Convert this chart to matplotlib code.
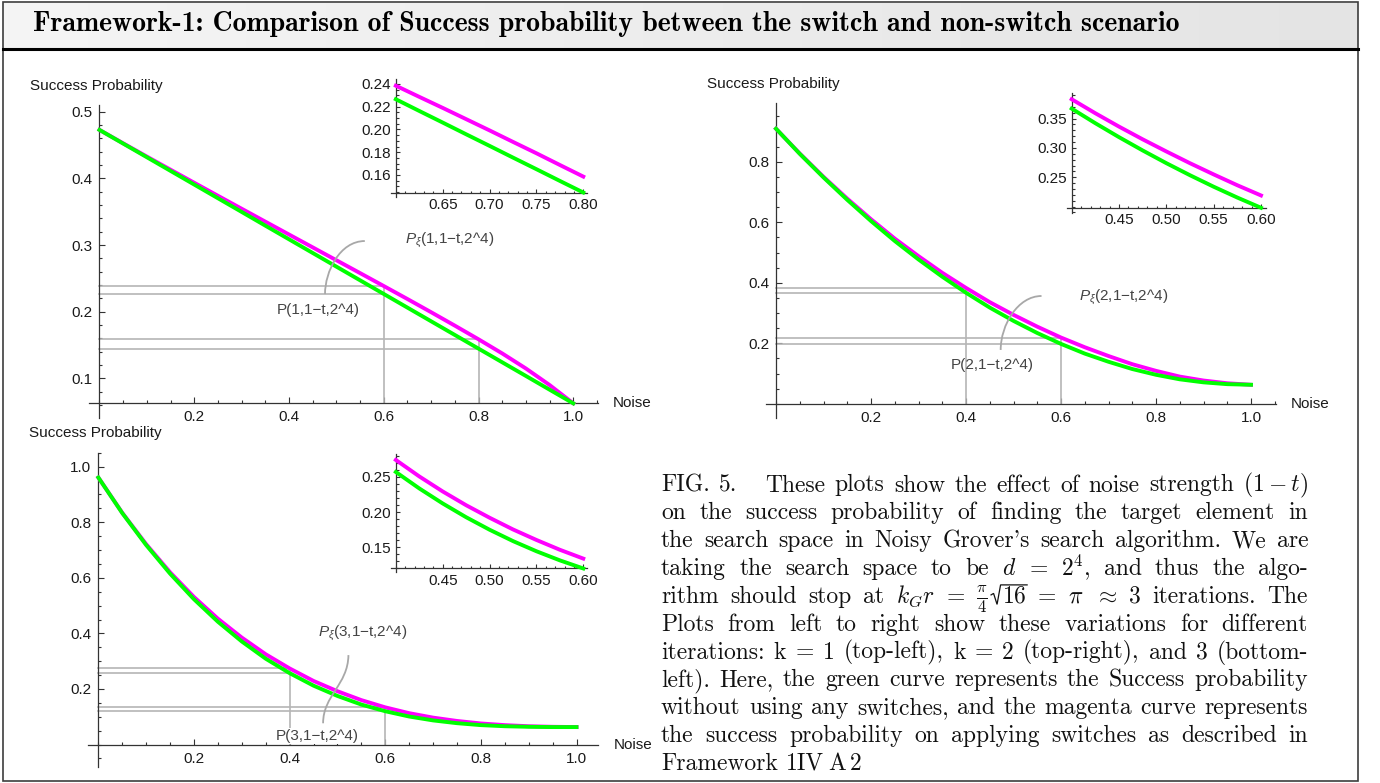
import numpy as np
import matplotlib
matplotlib.use("Agg")
import matplotlib.pyplot as plt
from matplotlib.path import Path
from matplotlib.patches import PathPatch, Rectangle
from matplotlib.lines import Line2D
from matplotlib.colors import LinearSegmentedColormap
from matplotlib.ticker import FixedLocator, MultipleLocator, FormatStrFormatter
from matplotlib.transforms import IdentityTransform

# ---- values ---------------------------------------------------------------
noise = [0.00, 0.05, 0.10, 0.15, 0.20, 0.25, 0.30, 0.35, 0.40, 0.45, 0.50,
         0.55, 0.60, 0.65, 0.70, 0.75, 0.80, 0.85, 0.90, 0.95, 1.00]

# k = 1 (top-left)
k1_plain = [0.4727, 0.4522, 0.4317, 0.4112, 0.3907, 0.3702, 0.3497, 0.3291, 0.3086, 0.2881, 0.2676,
            0.2471, 0.2266, 0.2061, 0.1856, 0.1651, 0.1446, 0.1241, 0.1036, 0.0830, 0.0625]
k1_switch = [0.4727, 0.4526, 0.4327, 0.4130, 0.3934, 0.3739, 0.3545, 0.3351, 0.3158, 0.2965, 0.2772,
             0.2579, 0.2385, 0.2190, 0.1992, 0.1791, 0.1586, 0.1374, 0.1148, 0.0900, 0.0625]
# k = 2 (top-right)
k2_plain = [0.909, 0.826, 0.748, 0.674, 0.604, 0.538, 0.477, 0.420, 0.367, 0.318, 0.274,
            0.234, 0.198, 0.166, 0.139, 0.115, 0.096, 0.081, 0.071, 0.065, 0.063]
k2_switch = [0.909, 0.827, 0.750, 0.678, 0.610, 0.546, 0.488, 0.433, 0.383, 0.336, 0.294,
             0.255, 0.219, 0.187, 0.158, 0.131, 0.109, 0.090, 0.077, 0.068, 0.063]
# k = 3 (bottom-left)
k3_plain = [0.961, 0.833, 0.718, 0.615, 0.523, 0.442, 0.371, 0.309, 0.257, 0.212, 0.175,
            0.144, 0.120, 0.101, 0.087, 0.077, 0.070, 0.066, 0.064, 0.063, 0.063]
k3_switch = [0.961, 0.834, 0.721, 0.620, 0.531, 0.453, 0.385, 0.325, 0.274, 0.229, 0.192,
             0.160, 0.134, 0.113, 0.097, 0.085, 0.076, 0.070, 0.066, 0.064, 0.063]

# the insets, read on a finer step
zoom_noise_k1 = [0.600, 0.625, 0.650, 0.675, 0.700, 0.725, 0.750, 0.775, 0.800]
zoom_k1_plain = [0.2266, 0.2163, 0.2061, 0.1958, 0.1856, 0.1753, 0.1651, 0.1548, 0.1446]
zoom_k1_switch = [0.2385, 0.2287, 0.2190, 0.2091, 0.1992, 0.1891, 0.1791, 0.1688, 0.1586]
zoom_noise_k23 = [0.400, 0.425, 0.450, 0.475, 0.500, 0.525, 0.550, 0.575, 0.600]
zoom_k2_plain = [0.3671, 0.3422, 0.3184, 0.2957, 0.2740, 0.2534, 0.2338, 0.2153, 0.1979]
zoom_k2_switch = [0.3831, 0.3592, 0.3364, 0.3147, 0.2940, 0.2739, 0.2548, 0.2363, 0.2189]
zoom_k3_plain = [0.2567, 0.2334, 0.2121, 0.1926, 0.1749, 0.1588, 0.1444, 0.1315, 0.1200]
zoom_k3_switch = [0.2737, 0.2504, 0.2291, 0.2096, 0.1919, 0.1753, 0.1604, 0.1465, 0.1340]

marks_k1 = [0.6, 0.8]
marks_k2 = [0.4, 0.6]
marks_k3 = [0.4, 0.6]

title = "Framework-1: Comparison of Success probability between the switch and non-switch scenario"
ylabel = "Success Probability"
xlabel = "Noise"
labels_switch = ["$P_{\\xi}$(1,1\u2212t,2^4)", "$P_{\\xi}$(2,1\u2212t,2^4)", "$P_{\\xi}$(3,1\u2212t,2^4)"]
labels_plain = ["P(1,1\u2212t,2^4)", "P(2,1\u2212t,2^4)", "P(3,1\u2212t,2^4)"]

# one space = normal gap, more spaces = wider gap, a leading "+" glues a piece
# to the previous word, "ROOT16" is the square root of 16
caption_lines = [
    "FIG. 5.   These plots show the effect of noise strength $(1-t)$",
    "on the success probability of finding the target element in",
    "the search space in Noisy Grover's search algorithm. We are",
    "taking the search space to be $d$ = $2^4$, and thus the algo-",
    r"rithm should stop at $k_Gr$ = $\frac{\pi}{4}$ +ROOT16 = $\pi$ $\approx$ 3 iterations. The",
    "Plots from left to right show these variations for different",
    "iterations: k = 1 (top-left), k = 2 (top-right), and 3 (bottom-",
    "left). Here, the green curve represents the Success probability",
    "without using any switches, and the magenta curve represents",
    "the success probability on applying switches as described in",
    "Framework  1IV A 2",
]

# ---- style ------------------------------------------------------------------
plt.rcParams['font.family'] = ['Liberation Sans', 'DejaVu Sans']
plt.rcParams['mathtext.fontset'] = 'custom'
plt.rcParams['mathtext.rm'] = 'Liberation Sans'
plt.rcParams['mathtext.it'] = 'Liberation Sans:italic'
plt.rcParams['mathtext.bf'] = 'Liberation Sans:bold'

MAGENTA = '#ff00ff'
GREEN = '#00ff00'
GREY = '#b5b5b5'
LEAD = '#a8a8a8'
AXC = '#333333'
INK = '#111111'

W, H = 1380, 783
fig = plt.figure(figsize=(W / 100, H / 100), dpi=100)
PX = IdentityTransform()


def fy(y):
    return H - y


def place(xmap, ymap, xlim, ylim):
    """axes whose data limits land on the given pixel positions"""
    xa, pa, xb, pb = xmap
    ya, qa, yb, qb = ymap
    sx = (pb - pa) / (xb - xa)
    sy = (qb - qa) / (yb - ya)
    left = pa + (xlim[0] - xa) * sx
    right = pa + (xlim[1] - xa) * sx
    top = qa + (ylim[1] - ya) * sy
    bottom = qa + (ylim[0] - ya) * sy
    ax = fig.add_axes([left / W, 1 - bottom / H, (right - left) / W, (bottom - top) / H])
    ax.set_xlim(xlim)
    ax.set_ylim(ylim)
    return ax


def panel(xmap, ymap, xlim, ylim, origin, xt, xm, yt, ym, inset=False):
    ax = place(xmap, ymap, xlim, ylim)
    ax.patch.set_visible(False)
    for s in ('top', 'right'):
        ax.spines[s].set_visible(False)
    ax.spines['left'].set_position(('data', origin[0]))
    ax.spines['bottom'].set_position(('data', origin[1]))
    for s in ('left', 'bottom'):
        ax.spines[s].set_color(AXC)
        ax.spines[s].set_linewidth(0.9)
    ax.xaxis.set_major_locator(FixedLocator(xt))
    ax.xaxis.set_minor_locator(MultipleLocator(xm))
    ax.yaxis.set_major_locator(FixedLocator(yt))
    ax.yaxis.set_minor_locator(MultipleLocator(ym))
    fmt = '%.2f' if inset else '%.1f'
    ax.xaxis.set_major_formatter(FormatStrFormatter(fmt))
    ax.yaxis.set_major_formatter(FormatStrFormatter(fmt))
    big, small = (3.0, 1.8) if inset else (4.3, 2.5)
    ax.tick_params(which='both', direction='in', colors=AXC, width=0.8,
                   labelcolor='#1a1a1a', labelsize=11)
    ax.tick_params(which='major', length=big)
    ax.tick_params(which='minor', length=small)
    ax.tick_params(axis='x', pad=4 if inset else 5)
    ax.tick_params(axis='y', pad=3.5 if inset else 5)
    return ax


def curves(ax, x, sw, pl):
    ax.plot(x, sw, color=MAGENTA, lw=2.8, zorder=3)
    ax.plot(x, pl, color=GREEN, lw=2.8, zorder=4)


def drops(ax, sw, pl, where, base):
    x = np.asarray(noise)
    for n in where:
        i = int(np.argmin(np.abs(x - n)))
        for v in (sw[i], pl[i]):
            ax.plot([0, x[i]], [v, v], color=GREY, lw=1.2, zorder=2)
        ax.plot([x[i], x[i]], [base, max(sw[i], pl[i])], color=GREY, lw=1.2, zorder=2)


def axis_names(ax, y0):
    ax.annotate(xlabel, xy=(1, y0), xycoords=ax.get_yaxis_transform(),
                xytext=(11, 0), textcoords='offset points', ha='left', va='center',
                fontsize=11, color='#1a1a1a', annotation_clip=False)
    ax.annotate(ylabel, xy=(0, 1), xycoords=ax.get_xaxis_transform(),
                xytext=(-50, 14), textcoords='offset points', ha='left', va='center',
                fontsize=11, color='#1a1a1a', annotation_clip=False)


def callouts(ax, sw_label, pl_label, sw_xy, pl_xy, lead, boxed=False):
    ax.text(*sw_xy, sw_label, ha='left', va='center', fontsize=11, color='#444444')
    kw = {}
    if boxed:
        kw['bbox'] = dict(fc='white', ec='none', pad=0.5)
    ax.text(*pl_xy, pl_label, ha='center', va='center', fontsize=11, color='#444444',
            zorder=6, **kw)
    path = Path(lead, [Path.MOVETO, Path.CURVE4, Path.CURVE4, Path.CURVE4])
    ax.add_patch(PathPatch(path, fill=False, ec=LEAD, lw=1.3, zorder=5, clip_on=False))


# ---- frame and header ---------------------------------------------------
head = fig.add_axes([3 / W, 1 - 49 / H, 1355 / W, 46 / H], zorder=-1)
head.imshow(np.linspace(0, 1, 256)[None, :], aspect='auto', extent=(0, 1, 0, 1),
            cmap=LinearSegmentedColormap.from_list('hdr', ['#f5f5f5', '#e4e4e4']))
head.axis('off')
fig.add_artist(Rectangle((3, fy(781)), 1355, 779, fill=False, ec='#3d3d3d', lw=1.2, transform=PX))
fig.add_artist(Line2D([3, 1358], [fy(49), fy(49)], color='black', lw=2.2, transform=PX))
fig.text(33, fy(31), title, transform=PX, fontfamily='cmb10', fontsize=20, va='baseline')

xt_main = [0.2, 0.4, 0.6, 0.8, 1.0]
xt_inset_a = [0.65, 0.70, 0.75, 0.80]
xt_inset_b = [0.45, 0.50, 0.55, 0.60]

# ---- top-left: k = 1 -------------------------------------------------------
ax1 = panel((0.4, 289.0, 1.0, 573.3), (0.5, 111.7, 0.2, 311.7), (-0.022, 1.052), (0.041, 0.51),
            (0, k1_plain[-1]), xt_main, 0.05, [0.1, 0.2, 0.3, 0.4, 0.5], 0.02)
drops(ax1, k1_switch, k1_plain, marks_k1, k1_plain[-1])
curves(ax1, noise, k1_switch, k1_plain)
axis_names(ax1, k1_plain[-1])
callouts(ax1, labels_switch[0], labels_plain[0], (0.645, 0.3065), (0.462, 0.2026),
         [(0.560, 0.306), (0.507, 0.306), (0.476, 0.260), (0.476, 0.2265)])

in1 = panel((0.65, 442.7, 0.80, 583.3), (0.24, 84.0, 0.16, 175.0), (0.595, 0.804), (0.1407, 0.2444),
            (0.6, zoom_k1_plain[-1]), xt_inset_a, 0.01, [0.16, 0.18, 0.20, 0.22, 0.24], 0.005,
            inset=True)
curves(in1, zoom_noise_k1, zoom_k1_switch, zoom_k1_plain)

# ---- top-right: k = 2 ------------------------------------------------------
ax2 = panel((0.4, 966.0, 0.6, 1061.0), (0.8, 161.7, 0.2, 343.3), (-0.022, 1.052), (-0.048, 0.993),
            (0, 0), xt_main, 0.05, [0.2, 0.4, 0.6, 0.8], 0.05)
drops(ax2, k2_switch, k2_plain, marks_k2, 0)
curves(ax2, noise, k2_switch, k2_plain)
axis_names(ax2, 0)
callouts(ax2, labels_switch[1], labels_plain[1], (0.638, 0.353), (0.455, 0.128),
         [(0.559, 0.3563), (0.509, 0.3563), (0.473, 0.2605), (0.473, 0.178)])

in2 = panel((0.45, 1119.0, 0.60, 1261.0), (0.383, 99.3, 0.198, 207.7), (0.395, 0.605), (0.189, 0.393),
            (0.4, zoom_k2_plain[-1]), xt_inset_b, 0.01, [0.25, 0.30, 0.35], 0.01, inset=True)
curves(in2, zoom_noise_k23, zoom_k2_switch, zoom_k2_plain)

# ---- bottom-left: k = 3 ----------------------------------------------------
ax3 = panel((0.2, 194.0, 1.0, 576.5), (1.0, 466.7, 0.2, 689.0), (-0.022, 1.045), (-0.08, 1.05),
            (0, 0), xt_main, 0.05, [0.2, 0.4, 0.6, 0.8, 1.0], 0.05)
drops(ax3, k3_switch, k3_plain, marks_k3, 0)
curves(ax3, noise, k3_switch, k3_plain)
axis_names(ax3, 0)
callouts(ax3, labels_switch[2], labels_plain[2], (0.459, 0.401), (0.458, 0.0306),
         [(0.523, 0.322), (0.522, 0.214), (0.470, 0.178), (0.470, 0.0767)], boxed=True)

in3 = panel((0.45, 442.7, 0.60, 583.3), (0.25, 476.7, 0.15, 547.3), (0.395, 0.604), (0.115, 0.282),
            (0.4, zoom_k3_plain[-1]), xt_inset_b, 0.01, [0.15, 0.20, 0.25], 0.01, inset=True)
curves(in3, zoom_noise_k23, zoom_k3_switch, zoom_k3_plain)

# ---- caption, justified by hand --------------------------------------------
renderer = fig.canvas.get_renderer()
cap_x0, cap_x1 = 661.0, 1308.0
base0, step = 491.5, 27.85
ROOT_PAD = 14.0
for li, line in enumerate(caption_lines):
    groups, gaps = [], []
    for part in line.split(' '):
        if part == '':
            gaps[-1] += 1
        elif part.startswith('+'):
            groups[-1].append(part[1:])
        else:
            groups.append([part])
            gaps.append(1)
    gaps = gaps[:-1]
    y = fy(base0 + li * step)
    placed = []
    for g in groups:
        pieces = []
        for s in g:
            root = s == 'ROOT16'
            t = fig.text(0, y, '$16$' if root else s, transform=PX, fontfamily='cmr10',
                         math_fontfamily='cm', fontsize=17, va='baseline', color=INK)
            w = t.get_window_extent(renderer).width
            pieces.append((t, w, ROOT_PAD if root else 0.0))
        placed.append(pieces)
    widths = [sum(w + p for _, w, p in ps) for ps in placed]
    if li == len(caption_lines) - 1:
        unit = 4.0
    else:
        unit = (cap_x1 - cap_x0 - sum(widths)) / max(sum(gaps), 1)
    x = cap_x0
    for pieces, g in zip(placed, gaps + [0]):
        for t, w, p in pieces:
            if p:
                # radical sign drawn by hand, bar over the digits
                fig.add_artist(Line2D([x + 3.5, x + 6.0, x + 9.5, x + 13.0, x + p + w + 1.0],
                                      [y + 8.0, y + 9.5, y - 1.5, y + 18.0, y + 18.0],
                                      color=INK, lw=0.9, transform=PX,
                                      solid_joinstyle='miter'))
            t.set_x(x + p)
            x += w + p
        x += g * unit

fig.savefig('out.png', dpi=100)
